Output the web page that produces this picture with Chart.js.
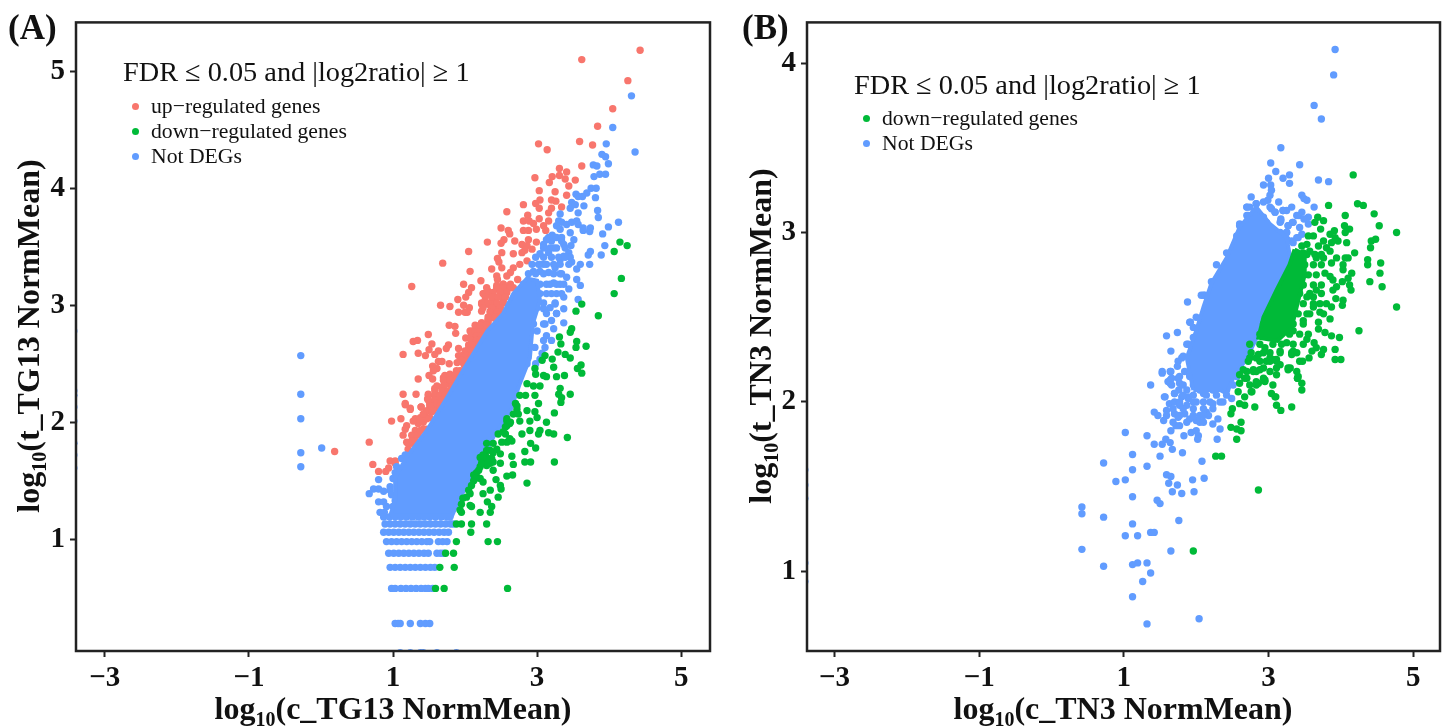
<!DOCTYPE html>
<html>
<head>
<meta charset="utf-8">
<script src="https://cdn.jsdelivr.net/npm/chart.js@4"></script>
<style>
  body { margin: 0; background: #fff; font-family: "Liberation Serif", serif; color: #111; }
  #page { position: relative; width: 1445px; height: 726px; overflow: hidden; }
  canvas { position: absolute; top: 0; }
  .tag { position: absolute; font-weight: bold; font-size: 35px; line-height: 1; }
  .axisname { position: absolute; font-weight: bold; font-size: 32px; line-height: 1; white-space: nowrap; transform: translate(-50%, -50%); }
  .axisname.rot { transform: translate(-50%, -50%) rotate(-90deg); }
  .axisname sub { font-size: 20px; line-height: 0; }
  .cond { position: absolute; font-size: 28.3px; line-height: 1; white-space: nowrap; }
  .key { position: absolute; font-size: 21.7px; line-height: 1; white-space: nowrap; padding-left: 28px; }
  .key i { position: absolute; left: 9px; top: 7px; width: 7px; height: 7px; border-radius: 50%; }
</style>
</head>
<body>
<div id="page">
  <canvas id="chartA" width="722" height="726" style="left:0"></canvas>
  <canvas id="chartB" width="714" height="726" style="left:731px"></canvas>
  <div class="tag" style="left:8px;top:10px">(A)</div>
  <div class="tag" style="left:742px;top:10px">(B)</div>
  <div class="axisname" style="left:393px;top:708px">log<sub>10</sub>(c_TG13 NormMean)</div>
  <div class="axisname rot" style="left:28px;top:336px">log<sub>10</sub>(t_TG13 NormMean)</div>
  <div class="axisname" style="left:1123px;top:708px">log<sub>10</sub>(c_TN3 NormMean)</div>
  <div class="axisname rot" style="left:760px;top:336px">log<sub>10</sub>(t_TN3 NormMean)</div>
  <div id="legendA"></div>
  <div id="legendB"></div>
</div>
<script>
const conditionText = 'FDR ≤ 0.05 and |log2ratio| ≥ 1';
const upName = 'up−regulated genes';
const downName = 'down−regulated genes';
const notName = 'Not DEGs';

const upColor = '#F8766D';
const downColor = '#00BA38';
const notColor = '#619CFF';

const xTicksAll = [-3, -1, 1, 3, 5];
const yTicksA = [1, 2, 3, 4, 5];
const yTicksB = [1, 2, 3, 4];

// panel A: points as [log10 c, log10 t]
const upA = [
[4.43,5.18],[3.62,5.10],[4.26,4.92],[4.05,4.68],[3.84,4.53],[3.59,4.40],[3.77,4.37],[3.02,4.38],[3.14,4.33],[3.62,4.19],
[3.31,4.17],[3.41,4.14],[3.31,4.11],[3.21,4.10],[3.39,4.08],[3.53,4.07],[2.97,4.09],[3.17,4.05],[3.44,4.02],[3.03,3.98],
[3.25,3.97],[3.41,3.94],[3.04,3.90],[3.20,3.90],[3.26,3.89],[2.98,3.87],[2.81,3.86],[3.03,3.83],[3.20,3.83],[3.34,3.84],
[2.58,3.80],[3.16,3.79],[2.87,3.77],[3.03,3.74],[2.81,3.72],[2.89,3.72],[2.95,3.70],[3.16,3.72],[3.09,3.68],[2.50,3.66],
[2.60,3.64],[2.81,3.64],[2.88,3.64],[2.99,3.65],[3.12,3.64],[2.62,3.61],[2.88,3.56],[2.99,3.54],[2.31,3.54],[2.54,3.56],
[2.50,3.53],[2.69,3.55],[2.79,3.52],[2.86,3.51],[2.93,3.48],[2.83,3.47],[2.79,3.45],[2.05,3.46],[2.51,3.45],[2.67,3.44],
[2.45,3.40],[2.47,3.37],[2.51,3.32],[1.69,3.36],[2.86,3.38],[2.76,3.35],[2.67,3.32],[2.63,3.28],[2.58,3.25],[2.37,3.31],
[2.07,3.29],[2.44,3.25],[2.45,3.22],[2.73,3.22],[2.22,3.21],[1.26,3.16],[1.98,3.18],[2.09,3.15],[2.05,3.11],[2.01,3.07],
[2.30,3.15],[2.26,3.10],[2.35,3.10],[2.44,3.17],[2.53,3.18],[2.60,3.15],[2.67,3.15],[2.49,3.10],[2.56,3.10],[1.90,3.05],
[1.66,3.00],[1.79,2.99],[2.25,3.02],[2.35,3.00],[2.44,3.01],[2.53,3.04],[1.98,3.00],[2.06,2.98],[2.03,2.94],[1.91,2.94],
[2.00,2.94],[2.23,2.95],[2.32,2.88],[2.41,2.89],[1.78,2.83],[1.86,2.82],[1.87,2.76],[1.49,2.75],[2.01,2.72],[1.34,2.70],
[1.28,2.69],[1.54,2.67],[1.50,2.62],[1.77,2.66],[1.74,2.63],[1.91,2.63],[1.63,2.61],[1.58,2.58],[1.35,2.59],[1.14,2.58],
[1.45,2.57],[1.63,2.52],[1.68,2.52],[1.78,2.50],[1.89,2.51],[1.55,2.48],[1.61,2.46],[1.56,2.44],[1.93,2.44],[1.35,2.37],
[1.50,2.40],[1.55,2.37],[1.79,2.41],[1.70,2.38],[1.77,2.36],[1.14,2.24],[1.32,2.24],[1.58,2.29],[1.70,2.30],[1.49,2.24],
[1.48,2.20],[1.17,2.15],[1.39,2.13],[1.24,2.12],[1.56,2.16],[1.65,2.19],[2.11,2.78],[2.21,2.80],[2.28,2.81],[2.09,2.75],
[2.16,2.74],[2.23,2.75],[2.11,2.68],[2.19,2.66],[2.05,2.63],[2.11,2.63],[2.07,2.58],[1.98,2.57],[2.02,2.53],[1.98,2.50],
[2.30,3.01],[2.39,3.04],[2.49,3.08],[2.53,3.12],[2.44,3.14],[2.32,3.12],[2.25,3.10],[2.23,3.01],[2.35,2.95],[2.44,2.97],
[2.39,2.90],[2.49,2.93],[2.32,2.87],[2.23,2.85],[2.63,3.18],[2.53,3.18],[1.88,2.40],[1.84,2.36],[1.77,2.33],[1.74,2.26],
[1.65,2.23],[1.58,2.22],[1.51,2.14],[1.61,2.13],[0.67,1.83],[0.19,1.75],[0.72,1.64],[0.80,1.58],[0.90,1.58],[0.94,1.61],
[0.96,1.67],[1.03,1.67],[1.03,1.65],[0.98,2.01],[1.11,2.03],[1.17,2.16],[1.24,2.11],[1.39,2.13],[1.45,2.08],[1.31,2.03],
[1.35,1.99],[1.42,2.00],[1.19,1.97],[1.17,1.94],[1.47,1.94],[1.31,1.93],[1.26,1.89],[1.14,1.89],[1.33,1.89],[1.19,1.83],
[1.26,1.82],[1.21,1.77],[1.31,1.84],[1.51,2.16],[1.61,2.13],[1.70,2.17],[1.47,2.10],[1.54,2.09],
// thick band along the blue core
[2.07,2.78],[2.14,2.78],[2.21,2.78],[2.28,2.78],[2.09,2.74],[2.16,2.74],[2.23,2.74],[2.09,2.70],[2.16,2.70],[2.21,2.70],
[2.05,2.66],[2.12,2.66],[2.19,2.66],[2.00,2.61],[2.09,2.61],[2.16,2.61],[1.91,2.57],[1.95,2.57],[2.02,2.57],[2.09,2.57],
[1.95,2.53],[2.05,2.53],[2.12,2.53],[2.00,2.48],[2.07,2.48],[1.88,2.44],[1.98,2.44],[1.72,2.40],[1.79,2.40],[1.86,2.40],
[1.93,2.40],[1.70,2.36],[1.79,2.36],[1.88,2.36],[1.61,2.31],[1.70,2.31],[1.82,2.31],[1.58,2.27],[1.68,2.27],[1.77,2.27],
[1.49,2.23],[1.58,2.23],[1.65,2.23],[1.72,2.23],[1.49,2.19],[1.58,2.19],[1.68,2.19],[1.54,2.14],[1.63,2.14],
[2.44,3.15],[2.53,3.15],[2.63,3.15],[2.30,3.11],[2.39,3.11],[2.49,3.11],[2.58,3.11],[2.28,3.07],[2.37,3.07],[2.46,3.07],
[2.56,3.07],[2.23,3.02],[2.32,3.02],[2.44,3.02],[2.53,3.02],[2.25,2.98],[2.37,2.98],[2.49,2.98],[2.35,2.94],[2.44,2.94],
[2.32,2.90],[2.42,2.90],[2.23,2.85],[2.32,2.85],[2.14,2.83],[2.21,2.83],[2.30,2.83],
[1.28,2.01],[1.38,2.04],[1.42,1.94],[1.51,2.04],[1.61,2.16],[1.47,2.03],[1.35,1.90],[1.26,1.84],[1.21,1.82],[1.65,2.14],[1.42,2.07],[1.56,2.10],[1.38,1.93]
];
const downA = [
[4.15,3.54],[4.25,3.51],[4.07,3.46],[4.17,3.23],[4.07,3.10],[3.62,3.01],[3.54,2.95],[3.85,2.91],[3.48,2.80],[3.46,2.77],
[3.31,2.73],[3.55,2.69],[3.33,2.67],[3.68,2.65],[3.54,2.64],[3.29,2.60],[3.39,2.58],[3.46,2.55],[3.07,2.53],[3.21,2.54],
[3.11,2.57],[3.23,2.47],[3.61,2.49],[3.56,2.46],[3.62,2.42],[2.97,2.46],[2.98,2.41],[3.09,2.40],[3.13,2.39],[3.27,2.39],
[3.38,2.40],[2.86,2.33],[2.95,2.31],[3.04,2.31],[2.84,2.23],[2.97,2.23],[3.32,2.29],[3.30,2.24],[3.46,2.24],[3.34,2.21],
[2.76,2.23],[2.70,2.16],[2.86,2.10],[3.02,2.16],[3.33,2.17],[2.97,2.09],[3.24,2.08],[2.74,2.07],[2.58,2.01],[2.76,2.01],
[2.90,2.01],[3.00,2.04],[3.13,2.00],[2.46,1.90],[2.58,1.97],[2.79,1.90],[2.90,1.93],[3.02,1.90],[3.04,1.93],[3.16,1.91],
[3.23,1.90],[3.42,1.87],[2.91,1.82],[2.98,1.78],[2.58,1.83],[2.65,1.84],[2.30,1.76],[2.39,1.74],[2.49,1.73],[2.83,1.75],
[2.65,1.71],[2.25,1.67],[2.35,1.65],[2.49,1.65],[2.83,1.66],[2.91,1.66],[3.24,1.66],[2.67,1.64],[2.21,1.62],[2.39,1.59],
[2.16,1.53],[2.58,1.54],[2.66,1.55],[2.43,1.51],[2.86,1.48],[2.12,1.50],[2.25,1.49],[2.35,1.42],[2.50,1.43],[2.49,1.46],
[2.07,1.39],[2.25,1.39],[2.46,1.36],[1.97,1.35],[2.07,1.29],[2.31,1.32],[2.37,1.28],[1.95,1.23],[2.09,1.28],[2.21,1.23],
[2.35,1.23],[1.88,1.13],[1.95,1.13],[2.09,1.13],[2.30,1.13],[2.08,1.06],[1.88,0.98],[2.32,0.98],[2.45,0.98],[1.73,0.88],
[1.84,0.88],[1.65,0.76],[1.85,0.76],[1.59,0.58],[1.71,0.58],[2.59,0.58],[2.21,1.70],[2.28,1.72],[2.37,1.69],[2.30,1.63],
[2.16,1.57],[2.21,1.52],[2.12,1.55],[2.58,2.03],[2.62,1.99],[2.53,1.92],[2.62,1.86],[2.72,2.11],[2.67,2.07],
[2.14,1.52],[2.19,1.59],[2.23,1.65],[2.30,1.70],[2.39,1.66],[2.25,1.72],[2.44,1.77],[2.51,1.83],[2.56,1.90],[2.63,2.00],
[2.72,2.14],[2.35,1.76],[2.32,1.65],[2.09,1.46],[2.05,1.42],[2.02,1.36],[1.95,1.30],[1.93,1.25],[2.56,1.96],[2.39,1.82],[2.30,1.82]
];
const notA = [
[4.31,4.79],[4.36,4.31],[4.05,4.52],[3.96,4.38],[3.90,4.29],[3.95,4.27],[3.99,4.21],[3.78,4.20],[3.83,4.19],[3.79,4.10],
[3.87,4.12],[3.95,4.12],[3.75,4.00],[3.82,4.00],[3.69,3.96],[3.63,3.93],[3.54,3.95],[3.57,3.93],[3.81,3.92],[3.65,3.85],
[3.48,3.88],[3.46,3.83],[3.53,3.86],[3.57,3.79],[3.84,3.81],[3.85,3.75],[3.32,3.78],[4.13,3.71],[3.99,3.67],[3.91,3.61],
[3.30,3.72],[3.34,3.71],[3.27,3.68],[3.32,3.65],[3.41,3.69],[3.48,3.71],[3.55,3.72],[3.57,3.69],[3.64,3.66],[3.74,3.66],
[3.64,3.64],[3.73,3.63],[3.46,3.62],[3.51,3.56],[3.21,3.60],[3.13,3.56],[3.09,3.52],[3.20,3.55],[3.34,3.55],[3.37,3.52],
[3.23,3.49],[3.16,3.45],[3.47,3.51],[3.44,3.45],[3.46,3.41],[3.32,3.39],[3.37,3.42],[3.74,3.46],[3.71,3.43],[3.89,3.43],
[3.94,3.51],[3.60,3.35],[3.55,3.31],[3.73,3.35],[3.48,3.37],[3.25,3.32],[3.16,3.28],[3.34,3.27],[3.41,3.24],[3.55,3.22],
[3.60,3.17],[3.44,3.14],[3.32,3.18],[3.23,3.19],[3.57,3.05],[3.37,3.07],[3.27,3.10],[3.13,3.10],[3.37,2.97],[3.25,3.01],
[3.18,2.98],[3.09,2.97],[3.27,2.93],[3.20,2.87],[3.37,2.85],[3.23,2.80],[3.11,2.84],[3.13,2.74],[3.20,2.70],[3.09,2.70],
[3.11,2.64],[3.07,2.59],[3.04,2.54],[2.86,2.50],[2.97,2.64],[2.98,2.50],[3.04,3.29],[3.00,3.18],[3.09,3.35],[3.04,3.44],
[2.95,3.29],[3.13,3.18],[3.04,3.10],[3.00,2.98],[2.90,2.90],[3.09,2.84],[3.00,2.78],[3.04,3.35],
[3.16,3.58],[3.23,3.58],[3.27,3.58],[3.34,3.58],[3.09,3.49],[3.18,3.49],[3.27,3.49],[3.39,3.49],[2.98,3.41],[3.09,3.41],
[3.20,3.41],[3.30,3.41],[3.39,3.41],[2.93,3.35],[3.02,3.35],[3.13,3.35],[3.23,3.35],[3.32,3.35],[3.44,3.35],[2.88,3.27],
[2.98,3.27],[3.09,3.27],[3.23,3.27],[3.32,3.27],[2.81,3.18],[2.93,3.18],[3.04,3.18],[3.18,3.18],[3.27,3.18],[3.37,3.18],
[2.74,3.10],[2.86,3.10],[2.98,3.10],[3.20,3.10],[3.34,3.10],[2.67,3.02],[2.81,3.02],[3.09,3.02],[3.25,3.02],[2.69,2.93],
[2.86,2.93],[3.13,2.93],[3.27,2.93],[2.81,2.84],[2.95,2.84],
[-0.28,2.57],[-0.28,2.24],[-0.28,2.03],[0.01,1.78],[-0.28,1.74],[-0.28,1.62],
[0.80,1.51],[0.67,1.39],[0.73,1.43],[0.80,1.43],[0.87,1.41],[0.96,1.45],[0.96,1.42],[0.98,1.38],[1.03,1.33],[0.80,1.32],
[0.87,1.32],[0.82,1.23],[0.88,1.23],[0.91,1.28],[1.00,1.28],[1.03,1.57],[1.00,1.52],[1.10,1.50],[1.12,1.69],[1.17,1.72],
[1.05,1.62],[1.07,1.55],
// stripes of low counts
[0.87,1.19],[0.95,1.19],[1.03,1.19],[1.11,1.19],[1.19,1.19],[1.27,1.19],[1.35,1.19],[1.43,1.19],[1.51,1.19],[1.59,1.19],[1.67,1.19],[1.75,1.19],[1.79,1.19],
[0.89,1.13],[0.96,1.13],[1.03,1.13],[1.10,1.13],[1.17,1.13],[1.24,1.13],[1.31,1.13],[1.38,1.13],[1.45,1.13],[1.52,1.13],[1.59,1.13],[1.66,1.13],[1.73,1.13],[1.80,1.13],[1.84,1.13],
[0.87,1.06],[0.94,1.06],[1.01,1.06],[1.08,1.06],[1.15,1.06],[1.22,1.06],[1.29,1.06],[1.36,1.06],[1.43,1.06],[1.50,1.06],[1.57,1.06],[1.64,1.06],[1.71,1.06],[1.77,1.06],
[0.91,0.98],[0.98,0.98],[1.05,0.98],[1.12,0.98],[1.19,0.98],[1.26,0.98],[1.33,0.98],[1.40,0.98],[1.47,0.98],[1.51,0.98],[1.63,0.98],[1.69,0.98],[1.75,0.98],
[0.94,0.88],[1.01,0.88],[1.08,0.88],[1.15,0.88],[1.22,0.88],[1.29,0.88],[1.36,0.88],[1.43,0.88],[1.49,0.88],[1.61,0.88],[1.66,0.88],[1.70,0.88],
[0.96,0.76],[1.03,0.76],[1.10,0.76],[1.17,0.76],[1.24,0.76],[1.31,0.76],[1.38,0.76],[1.45,0.76],[1.52,0.76],[1.58,0.76],
[0.98,0.58],[1.03,0.58],[1.11,0.58],[1.18,0.58],[1.25,0.58],[1.32,0.58],[1.39,0.58],[1.45,0.58],[1.49,0.58],[1.55,0.58],
[1.03,0.28],[1.07,0.28],[1.10,0.28],[1.24,0.28],[1.38,0.28],[1.45,0.28],[1.51,0.28],
[1.10,0.03],[1.24,0.03],[1.38,0.03],[1.42,0.03],[1.61,0.03],[1.88,0.03],
// clipped at the left border
[-3.43,2.78],[-3.43,2.27],[-3.43,2.23],[-3.43,2.13],[-3.43,2.01],[-3.43,1.82],[-3.43,1.72],[-3.43,1.61]
];
// outline of the overplotted core, where single points cannot be read
const notCoreA = [
[0.96,1.20],[1.03,1.33],[1.03,1.53],[1.19,1.70],[1.47,1.93],[1.75,2.21],[1.97,2.44],[2.31,2.78],[2.53,2.93],[2.67,3.10],
[2.86,3.23],[3.00,3.21],[3.04,3.04],[2.94,2.84],[2.90,2.55],[2.76,2.33],[2.63,2.10],[2.39,1.87],[2.21,1.65],[2.07,1.50],
[1.93,1.36],[1.82,1.20],[0.96,1.20]
];

// panel B
const downB = [
[4.17,3.34],[3.83,3.16],[4.23,3.17],[4.31,3.16],[4.06,3.10],[4.46,3.11],[3.68,3.09],[3.76,3.07],[3.64,3.06],[4.53,3.04],
[4.05,3.04],[4.12,3.02],[4.06,3.00],[4.77,3.00],[3.72,3.02],[3.91,3.01],[3.85,2.99],[3.55,2.98],[3.62,2.98],[4.48,2.96],
[4.42,2.95],[4.41,2.91],[3.96,2.95],[3.92,2.97],[4.08,2.94],[3.76,2.95],[3.69,2.92],[3.80,2.91],[3.87,2.94],[4.19,2.88],
[3.46,2.92],[3.53,2.93],[3.48,2.88],[3.57,2.89],[3.66,2.85],[3.76,2.85],[3.85,2.89],[3.94,2.85],[4.06,2.85],[4.10,2.85],
[4.37,2.84],[4.37,2.81],[4.55,2.82],[3.87,2.82],[4.03,2.81],[4.03,2.78],[4.15,2.76],[4.10,2.73],[4.02,2.71],[4.54,2.76],
[4.40,2.71],[4.57,2.68],[4.12,2.69],[4.14,2.66],[3.94,2.68],[3.89,2.66],[3.78,2.76],[3.85,2.74],[3.89,2.72],[3.93,2.61],
[4.03,2.60],[4.02,2.57],[3.80,2.58],[3.87,2.56],[4.77,2.56],[4.25,2.42],[3.71,2.53],[3.76,2.52],[3.85,2.49],[3.69,2.47],
[3.69,2.43],[3.78,2.41],[3.87,2.39],[3.98,2.38],[3.63,2.35],[3.66,2.32],[3.76,2.31],[3.92,2.31],[3.73,2.28],[3.60,2.30],
[3.56,2.26],[3.92,2.25],[4.00,2.25],[3.43,2.24],[3.47,2.24],[3.32,2.28],[3.39,2.18],[3.27,2.20],[3.40,2.14],
[2.67,2.14],[2.60,2.11],[2.74,2.10],[2.58,2.06],[2.67,2.03],[2.76,2.06],[2.83,2.10],[2.95,2.12],[3.06,2.10],[3.04,2.05],
[3.10,2.03],[2.81,1.97],[3.11,1.98],[3.17,1.95],[3.32,1.97],[3.46,2.11],[3.46,2.07],[3.40,2.14],[2.60,1.99],[2.67,1.98],
[2.50,1.96],[2.48,1.93],[2.62,1.88],[2.48,1.85],[2.56,1.84],[2.62,1.83],[2.56,1.78],[2.27,1.68],[2.35,1.68],[2.86,1.48],[1.96,1.12],
[2.77,2.06],[3.09,2.03],[2.86,2.11],[2.95,2.13],[2.60,2.16],[2.70,2.18],[2.83,2.18],[2.93,2.20],[3.11,2.20],[2.74,2.26],
[2.83,2.26],[3.02,2.26],[3.11,2.25],[3.34,2.30],[3.30,2.20],[3.41,2.15],[3.16,2.30],[2.95,2.32],[2.86,2.28],
[2.97,2.24],[3.06,2.25],[3.16,2.22],[2.79,2.18],[2.88,2.19],[3.02,2.18],[3.11,2.16],[3.27,2.19],[2.70,2.14],[2.93,2.14],[2.83,2.12],
[3.53,2.62],[3.62,2.62],[3.66,2.66],[3.71,2.58],[3.57,2.52],[3.48,2.48],[3.62,2.56],[3.34,2.42],[3.53,2.37],[3.25,2.35],
[3.53,2.87],[3.64,2.87],[3.73,2.87],[3.39,2.81],[3.50,2.81],[3.62,2.81],[3.73,2.81],[3.32,2.75],[3.43,2.75],[3.55,2.75],
[3.66,2.75],[3.25,2.69],[3.36,2.69],[3.48,2.69],[3.62,2.69],[3.73,2.69],[3.18,2.64],[3.29,2.64],[3.43,2.64],[3.57,2.64],
[3.73,2.64],[3.06,2.58],[3.20,2.58],[3.34,2.58],[3.48,2.58],[3.62,2.58],[2.99,2.52],[3.13,2.52],[3.27,2.52],[3.41,2.52],
[3.53,2.52],[2.93,2.46],[3.06,2.46],[3.20,2.46],[3.34,2.46],[3.48,2.46],[2.88,2.40],[3.02,2.40],[3.16,2.40],[3.29,2.40],
[3.43,2.40],[3.55,2.40],[2.74,2.34],[2.88,2.34],[3.06,2.34],[3.18,2.34],[3.34,2.34],[3.48,2.34],[2.76,2.29],[2.93,2.29],
[3.02,2.29],[3.16,2.29],[3.32,2.29],[3.39,2.29],[2.72,2.24],[2.88,2.24],[3.02,2.24],[3.11,2.24],[2.65,2.19],[2.79,2.19]
];
const notB = [
[3.92,4.08],[3.90,3.93],[3.63,3.75],[3.73,3.67],[3.17,3.50],[3.03,3.41],[3.43,3.40],[3.10,3.36],[3.29,3.34],[3.20,3.32],
[3.29,3.29],[3.00,3.32],[3.69,3.31],[3.83,3.30],[2.93,3.28],[3.03,3.28],[3.04,3.25],[3.02,3.22],[2.76,3.21],[3.46,3.22],
[3.49,3.20],[3.53,3.19],[2.99,3.19],[3.14,3.18],[3.32,3.15],[3.63,3.15],[2.70,3.15],[2.74,3.15],[2.83,3.17],[2.93,3.18],
[3.04,3.14],[3.09,3.12],[3.20,3.13],[3.25,3.13],[3.46,3.12],[3.42,3.10],[3.55,3.09],[3.49,3.08],[3.17,3.08],[3.16,3.06],
[3.33,3.06],[3.27,3.04],[3.43,3.03],[3.55,3.05],[2.70,3.10],[2.83,3.12],[2.93,3.09],[2.60,3.04],[2.70,3.06],[2.97,3.06],
[3.16,3.00],[3.25,3.00],[3.02,3.00],[3.39,2.97],[3.46,2.99],[3.32,2.95],[3.25,2.96],[2.28,2.81],[1.88,2.59],[2.10,2.63],
[2.00,2.50],[1.92,2.47],[1.96,2.44],[1.59,2.39],[1.74,2.41],[1.65,2.30],[1.82,2.27],[1.89,2.34],[1.75,2.24],[1.74,2.21],
[1.53,2.18],[1.65,2.18],[1.64,2.13],[1.75,2.14],[1.37,2.10],[1.53,2.17],[1.64,2.18],[1.61,2.12],[1.66,2.10],[1.57,2.03],
[1.70,2.05],[1.76,2.07],[1.89,2.02],[1.87,1.98],[2.00,2.00],[2.10,2.05],[1.63,1.99],[1.70,2.00],[1.77,1.98],[1.42,1.94],
[1.47,1.92],[1.55,1.89],[1.59,1.95],[1.70,1.93],[1.75,1.91],[1.84,1.93],[1.91,1.90],[2.00,1.89],[2.05,1.92],[2.14,1.94],
[2.23,1.99],[2.33,2.00],[2.49,2.02],[2.05,1.88],[2.17,1.92],[2.23,1.87],[2.30,1.90],[1.77,1.86],[1.72,1.86],[1.65,1.83],
[1.93,1.82],[2.00,1.83],[1.83,1.80],[2.03,1.80],[2.02,1.78],[2.33,1.84],[2.29,1.78],[1.02,1.82],[1.32,1.80],[1.58,1.78],
[1.64,1.76],[1.53,1.75],[1.42,1.75],[1.67,1.72],[1.81,1.70],[1.12,1.69],[1.50,1.68],[0.72,1.64],[2.08,1.65],[1.12,1.60],
[1.32,1.62],[1.59,1.57],[1.65,1.56],[1.95,1.54],[2.11,1.55],[0.89,1.53],[1.02,1.54],[1.62,1.52],[1.74,1.51],[1.67,1.47],
[1.80,1.46],[1.97,1.47],[1.12,1.44],[1.46,1.42],[1.50,1.40],[0.42,1.38],[0.42,1.34],[0.72,1.32],[1.76,1.30],[1.12,1.28],
[1.37,1.23],[1.42,1.23],[1.02,1.21],[1.19,1.21],[0.42,1.13],[1.65,1.12],[1.12,1.04],[1.19,1.05],[1.32,1.05],[0.72,1.03],
[1.37,0.99],[1.26,0.94],[1.12,0.85],[2.04,0.72],[1.32,0.69],
[1.56,2.03],[1.64,2.11],[1.66,2.14],[1.77,2.11],[1.70,2.05],[1.80,2.03],[1.89,2.03],[1.84,2.18],[1.91,2.16],
[2.07,2.63],[2.12,2.63],[2.21,2.71],[2.42,2.88],[2.56,2.98],[2.60,3.05],[2.72,3.10],[2.70,3.15],[2.83,3.17],
[1.91,2.47],[1.96,2.38],[1.87,2.34],[1.80,2.26],
[3.02,3.15],[3.09,3.12],[3.20,3.13],[3.17,3.07],[3.34,3.06],[3.27,3.04],[3.25,3.00],[3.11,3.00],[3.39,3.10],[3.41,2.97],[3.34,2.94],
[1.77,2.15],[1.91,2.15],[2.10,2.15],[2.28,2.15],[2.46,2.15],[2.56,2.15],[1.82,2.10],[1.96,2.10],[2.14,2.10],[2.33,2.10],
[2.51,2.10],[1.87,2.07],[2.05,2.07],[2.23,2.07],[2.42,2.07],[1.82,2.04],[1.96,2.04],[2.14,2.04],[2.28,2.04],[2.42,2.04],
[1.77,2.00],[1.96,2.00],[2.10,2.00],[2.19,2.00],[2.37,2.00],[1.68,1.96],[1.82,1.96],[1.96,1.96],[2.10,1.96],[2.23,1.96],
[1.59,1.92],[1.77,1.92],[1.96,1.92],[2.10,1.92],[1.68,1.88],[1.87,1.88],[2.10,1.88],
[-3.41,1.60],[-3.41,1.51],[-3.41,1.43],[-3.41,1.05],[-3.41,0.94]
];
const notCoreB = [
[1.96,2.07],[1.87,2.26],[2.00,2.42],[2.10,2.56],[2.21,2.70],[2.42,2.85],[2.60,3.03],[2.83,3.15],[3.02,3.05],[3.25,2.97],
[3.30,2.85],[3.16,2.70],[3.02,2.56],[2.86,2.40],[2.70,2.26],[2.51,2.14],[2.42,2.05],[2.33,2.07],[1.96,2.07]
];
const downCoreB = [
[3.36,2.90],[3.50,2.87],[3.50,2.75],[3.40,2.58],[3.32,2.44],[3.12,2.36],[2.86,2.38],[2.93,2.50],[3.11,2.66],[3.29,2.81],[3.36,2.90]
];

function toXY(pairs) {
  return pairs.map(p => ({ x: p[0], y: p[1] }));
}

function dots(label, pairs, color, order) {
  return { label: label, data: toXY(pairs), backgroundColor: color, borderColor: color, borderWidth: 0, pointRadius: 3.7, order: order };
}

function core(pairs, color, order) {
  return { label: 'core', data: toXY(pairs), showLine: true, fill: 'shape', tension: 0, pointRadius: 0, borderWidth: 4, borderColor: color, backgroundColor: color, order: order };
}

// box round the plot, ggplot style
const framePlugin = {
  id: 'frame',
  afterDraw(chart) {
    const a = chart.chartArea;
    const ctx = chart.ctx;
    ctx.save();
    ctx.strokeStyle = '#222';
    ctx.lineWidth = 2.5;
    ctx.strokeRect(a.left, a.top, a.right - a.left, a.bottom - a.top);
    ctx.restore();
  }
};

function panel(id, datasets, xMin, xMax, yMin, yMax, yTicks, rightPad) {
  const tickFont = { family: 'Liberation Serif', size: 29, weight: 'bold' };
  new Chart(document.getElementById(id).getContext('2d'), {
    type: 'scatter',
    data: { datasets: datasets },
    plugins: [framePlugin],
    options: {
      responsive: false,
      animation: false,
      layout: { padding: { top: 21, right: rightPad, left: 0, bottom: 0 } },
      plugins: { legend: { display: false }, tooltip: { enabled: false } },
      scales: {
        x: {
          type: 'linear', min: xMin, max: xMax,
          afterBuildTicks: s => { s.ticks = xTicksAll.map(v => ({ value: v })); },
          afterFit: s => { s.height = 75; },
          border: { display: false },
          grid: { drawOnChartArea: false, tickLength: 6, tickColor: '#222', tickWidth: 2 },
          ticks: { color: '#111', font: tickFont, padding: 4, maxRotation: 0, callback: v => String(v).replace('-', '−') }
        },
        y: {
          type: 'linear', min: yMin, max: yMax,
          afterBuildTicks: s => { s.ticks = yTicks.map(v => ({ value: v })); },
          afterFit: s => { s.width = 76; },
          border: { display: false },
          grid: { drawOnChartArea: false, tickLength: 6, tickColor: '#222', tickWidth: 2 },
          ticks: { color: '#111', font: tickFont, padding: 5 }
        }
      }
    }
  });
}

function legend(id, left, top, keyTop, items) {
  const box = document.getElementById(id);
  let html = '<div class="cond" style="left:' + left + 'px;top:' + top + 'px">' + conditionText + '</div>';
  items.forEach((it, i) => {
    html += '<div class="key" style="left:' + left + 'px;top:' + (keyTop + i * 25) + 'px"><i style="background:' + it[1] + '"></i>' + it[0] + '</div>';
  });
  box.innerHTML = html;
}

panel('chartA', [
  dots(upName, upA, upColor, 3),
  core(notCoreA, notColor, 2),
  dots(notName, notA, notColor, 2),
  dots(downName, downA, downColor, 1)
], -3.4, 5.4, 0.045, 5.418, yTicksA, 12);

panel('chartB', [
  core(notCoreB, notColor, 3),
  dots(notName, notB, notColor, 3),
  core(downCoreB, downColor, 1),
  dots(downName, downB, downColor, 1)
], -3.38, 5.37, 0.53, 4.24, yTicksB, 5);

legend('legendA', 123, 58, 96, [[upName, upColor], [downName, downColor], [notName, notColor]]);
legend('legendB', 854, 71, 108, [[downName, downColor], [notName, notColor]]);
</script>
</body>
</html>
